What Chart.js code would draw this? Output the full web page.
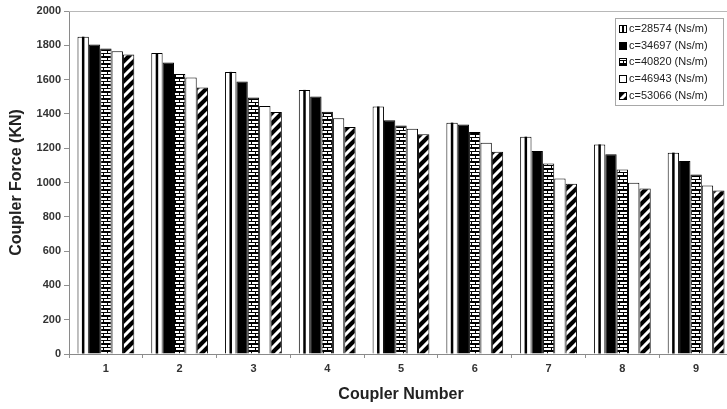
<!DOCTYPE html>
<html>
<head>
<meta charset="utf-8">
<title>Coupler Force</title>
<script src="https://cdn.jsdelivr.net/npm/chart.js@4/dist/chart.umd.min.js"></script>
<style>
  html, body { margin: 0; padding: 0; background: #fff; overflow: hidden; }
  #wrap { position: absolute; left: 0; top: 0; width: 740px; height: 409px; }
</style>
</head>
<body>
<div id="wrap"><canvas id="chart"></canvas></div>
<script>
// Coupler positions along the train
const couplers = ['1', '2', '3', '4', '5', '6', '7', '8', '9'];

// Damping coefficient of each series
const dampingLabels = ['c=28574 (Ns/m)', 'c=34697 (Ns/m)', 'c=40820 (Ns/m)', 'c=46943 (Ns/m)', 'c=53066 (Ns/m)'];

// Peak coupler force (KN) for each damping coefficient
const force28574 = [1850, 1755, 1645, 1540, 1443, 1349, 1267, 1222, 1174];
const force34697 = [1805, 1700, 1589, 1501, 1363, 1338, 1183, 1164, 1125];
const force40820 = [1782, 1632, 1495, 1413, 1333, 1294, 1111, 1076, 1047];
const force46943 = [1766, 1612, 1446, 1374, 1314, 1232, 1023,  998,  982];
const force53066 = [1747, 1554, 1411, 1323, 1281, 1180,  992,  965,  953];

// Y axis range
const yMin = 0, yMax = 2000, yStep = 200;

// ---- fill patterns ----
function brickPattern() {
  const c = document.createElement('canvas');
  c.width = 8; c.height = 7;
  const g = c.getContext('2d');
  g.fillStyle = '#fff'; g.fillRect(0, 0, 8, 7);
  g.fillStyle = '#000';
  g.fillRect(0, 0, 8, 2);
  g.fillRect(0, 4, 8, 1);
  g.fillRect(3, 2, 1, 2);
  g.fillRect(7, 5, 1, 2);
  return g.createPattern(c, 'repeat');
}
function diagonalPattern() {
  const s = 10;
  const c = document.createElement('canvas');
  c.width = s; c.height = s;
  const g = c.getContext('2d');
  g.fillStyle = '#000'; g.fillRect(0, 0, s, s);
  g.strokeStyle = '#fff'; g.lineWidth = 3;
  g.beginPath();
  g.moveTo(0, s); g.lineTo(s, 0);
  g.moveTo(-s, s); g.lineTo(s, -s);
  g.moveTo(0, 2 * s); g.lineTo(2 * s, 0);
  g.stroke();
  return g.createPattern(c, 'repeat');
}
const fills = ['#ffffff', '#000000', brickPattern(), '#ffffff', diagonalPattern()];
const seriesValues = [force28574, force34697, force40820, force46943, force53066];

// vertical centre stripe of the first series
const centreStripe = {
  id: 'centreStripe',
  afterDatasetDraw(chart, args) {
    if (args.index !== 0) return;
    const ctx = chart.ctx;
    ctx.save();
    ctx.fillStyle = '#000';
    args.meta.data.forEach(bar => {
      const p = bar.getProps(['x', 'y', 'base'], true);
      ctx.fillRect(p.x - 1.25, p.y, 2.5, p.base - p.y);
    });
    ctx.restore();
  }
};

// thin frame line along the top of the plot
const plotFrame = {
  id: 'plotFrame',
  beforeDatasetsDraw(chart) {
    const { ctx, chartArea: a } = chart;
    ctx.save();
    ctx.strokeStyle = '#b8b8b8';
    ctx.lineWidth = 1;
    ctx.beginPath();
    ctx.moveTo(a.left, a.top + 0.5);
    ctx.lineTo(a.right, a.top + 0.5);
    ctx.stroke();
    ctx.restore();
  }
};

// boxed legend in the upper right of the plot
const boxLegend = {
  id: 'boxLegend',
  afterDraw(chart) {
    const { ctx, chartArea: a } = chart;
    const w = 108, h = 87, rowH = 16.7;
    const x0 = a.right - 10 - w, y0 = a.top + 7;
    ctx.save();
    ctx.fillStyle = '#fff';
    ctx.fillRect(x0, y0, w, h);
    ctx.strokeStyle = '#a8a8a8';
    ctx.lineWidth = 1;
    ctx.strokeRect(x0 + 0.5, y0 + 0.5, w, h);
    ctx.font = '11px "Liberation Sans", Arial, sans-serif';
    ctx.textBaseline = 'middle';
    chart.data.datasets.forEach((ds, i) => {
      const cy = y0 + 11 + i * rowH;
      const sx = x0 + 4, sy = Math.round(cy - 4);
      ctx.fillStyle = ds.backgroundColor;
      ctx.fillRect(sx, sy, 8, 8);
      if (i === 0) { ctx.fillStyle = '#000'; ctx.fillRect(sx + 3, sy, 2, 8); }
      ctx.strokeStyle = '#000';
      ctx.strokeRect(sx + 0.5, sy + 0.5, 7, 7);
      ctx.fillStyle = '#222';
      ctx.fillText(ds.label, x0 + 14, cy);
    });
    ctx.restore();
  }
};

const tickFont = { family: '"Liberation Sans", Arial, sans-serif', size: 11, weight: 'bold' };
const titleFont = { family: '"Liberation Sans", Arial, sans-serif', size: 16, weight: 'bold' };

new Chart(document.getElementById('chart'), {
  type: 'bar',
  data: {
    labels: couplers,
    datasets: dampingLabels.map((label, i) => ({
      label,
      data: seriesValues[i],
      backgroundColor: fills[i],
      borderColor: '#000',
      borderWidth: 1,
      barPercentage: 1,
      categoryPercentage: 0.77
    }))
  },
  options: {
    responsive: true,
    maintainAspectRatio: false,
    animation: false,
    devicePixelRatio: 1,
    layout: { padding: { top: 11, right: 7, bottom: 0, left: 0 } },
    plugins: { legend: { display: false }, tooltip: { enabled: false } },
    scales: {
      x: {
        grid: { offset: true, drawOnChartArea: false, tickLength: 4, color: '#909090' },
        border: { color: '#8a8a8a' },
        ticks: { font: tickFont, color: '#333', padding: 4 },
        title: { display: true, text: 'Coupler Number', font: titleFont, color: '#222', padding: { top: 0, bottom: 5 } },
        afterFit(s) { s.height = 55; }
      },
      y: {
        min: yMin, max: yMax,
        grid: { drawOnChartArea: false, tickLength: 5, color: '#909090' },
        border: { color: '#8a8a8a' },
        ticks: { stepSize: yStep, font: tickFont, color: '#333', padding: 3, callback: v => String(v) },
        title: { display: true, text: 'Coupler Force (KN)', font: titleFont, color: '#222', padding: { top: 7, bottom: 0 } },
        afterFit(s) { s.width = 69; }
      }
    }
  },
  plugins: [plotFrame, centreStripe, boxLegend]
});
</script>
</body>
</html>
